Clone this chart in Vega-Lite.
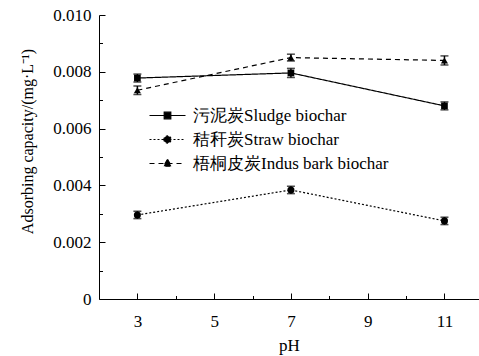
{
  "$schema": "https://vega.github.io/schema/vega-lite/v6.json",
  "width": 380,
  "height": 284,
  "autosize": {"type": "none"},
  "padding": {"left": 99, "top": 15, "right": 0, "bottom": 57},
  "background": "white",
  "config": {
    "view": {"stroke": null},
    "font": "Liberation Serif",
    "axis": {"grid": false, "domainColor": "black", "tickColor": "black", "labelColor": "black", "titleColor": "black", "labelFont": "Liberation Serif", "titleFont": "Liberation Serif", "titleFontWeight": "normal", "labelFontSize": 17, "titleFontSize": 17, "domainWidth": 1, "tickWidth": 1},
    "legend": {"labelFont": "Liberation Serif", "labelFontSize": 17, "labelColor": "black", "labelLimit": 400}
  },
  "data": {
    "values": [
      {"pH": 3, "series": "污泥炭Sludge biochar", "v": 0.00778, "e": 0.00014},
      {"pH": 7, "series": "污泥炭Sludge biochar", "v": 0.00796, "e": 0.00016},
      {"pH": 11, "series": "污泥炭Sludge biochar", "v": 0.0068, "e": 0.00014},
      {"pH": 3, "series": "秸秆炭Straw biochar", "v": 0.00296, "e": 0.00013},
      {"pH": 7, "series": "秸秆炭Straw biochar", "v": 0.00384, "e": 0.00013},
      {"pH": 11, "series": "秸秆炭Straw biochar", "v": 0.00275, "e": 0.00013},
      {"pH": 3, "series": "梧桐皮炭Indus bark biochar", "v": 0.00735, "e": 0.00015},
      {"pH": 7, "series": "梧桐皮炭Indus bark biochar", "v": 0.0085, "e": 0.00012},
      {"pH": 11, "series": "梧桐皮炭Indus bark biochar", "v": 0.0084, "e": 0.00016}
    ]
  },
  "resolve": {"axis": {"x": "independent", "y": "independent"}},
  "layer": [
    {
      "mark": {"type": "line", "strokeWidth": 1.2},
      "encoding": {
        "x": {"field": "pH", "type": "quantitative", "scale": {"domain": [2, 11.9], "nice": false, "zero": false},
          "axis": {"orient": "bottom", "values": [3, 5, 7, 9, 11], "tickSize": -6, "labelPadding": 20, "title": "pH", "titlePadding": 8}},
        "y": {"field": "v", "type": "quantitative", "scale": {"domain": [0, 0.01], "nice": false},
          "axis": {"orient": "left", "values": [0, 0.002, 0.004, 0.006, 0.008, 0.01], "tickSize": -6, "labelPadding": 14, "labelExpr": "datum.value == 0 ? '0' : format(datum.value, '.3f')", "title": "Adsorbing capacity/(mg·L⁻¹)", "titleFontSize": 16, "titlePadding": 17, "titleY": 126}},
        "strokeDash": {"field": "series", "type": "nominal",
          "scale": {"domain": ["污泥炭Sludge biochar", "秸秆炭Straw biochar", "梧桐皮炭Indus bark biochar"], "range": [[1, 0], [2, 2], [5, 4]]},
          "legend": null},
        "color": {"field": "series", "type": "nominal",
          "scale": {"domain": ["污泥炭Sludge biochar", "秸秆炭Straw biochar", "梧桐皮炭Indus bark biochar"], "range": ["black", "black", "black"]},
          "legend": {"orient": "none", "legendX": 60, "legendY": 92, "title": null, "padding": 0, "symbolSize": 144, "labelOffset": 17, "rowPadding": 6,
            "encode": {"symbols": {"update": {
              "shape": {"signal": "datum.value == '污泥炭Sludge biochar' ? 'M-3,0H3M-0.55,-0.55H0.55V0.55H-0.55Z' : datum.value == '秸秆炭Straw biochar' ? 'M-3,0H3M-0.6,0A0.6,0.6 0 1,0 0.6,0A0.6,0.6 0 1,0 -0.6,0Z' : 'M-3,0H3M0,-0.7L0.65,0.45L-0.65,0.45Z'"},
              "strokeDash": {"signal": "datum.value == '污泥炭Sludge biochar' ? [1, 0] : datum.value == '秸秆炭Straw biochar' ? [2, 2] : [5, 4]"},
              "fill": {"value": "black"},
              "strokeWidth": {"value": 1.2}
            }}}}
        }
      }
    },
    {
      "transform": [{"filter": "datum.series == '污泥炭Sludge biochar'"}],
      "mark": {"type": "point", "shape": "square", "filled": true, "color": "black", "opacity": 1, "size": 45},
      "encoding": {
        "x": {"field": "pH", "type": "quantitative", "scale": {"domain": [2, 11.9], "nice": false, "zero": false}, "axis": null},
        "y": {"field": "v", "type": "quantitative", "scale": {"domain": [0, 0.01], "nice": false}, "axis": null}
      }
    },
    {
      "transform": [{"filter": "datum.series == '秸秆炭Straw biochar'"}],
      "mark": {"type": "point", "shape": "circle", "filled": true, "color": "black", "opacity": 1, "size": 50},
      "encoding": {
        "x": {"field": "pH", "type": "quantitative", "scale": {"domain": [2, 11.9], "nice": false, "zero": false}, "axis": null},
        "y": {"field": "v", "type": "quantitative", "scale": {"domain": [0, 0.01], "nice": false}, "axis": null}
      }
    },
    {
      "transform": [{"filter": "datum.series == '梧桐皮炭Indus bark biochar'"}],
      "mark": {"type": "point", "shape": "triangle-up", "filled": true, "color": "black", "opacity": 1, "size": 50},
      "encoding": {
        "x": {"field": "pH", "type": "quantitative", "scale": {"domain": [2, 11.9], "nice": false, "zero": false}, "axis": null},
        "y": {"field": "v", "type": "quantitative", "scale": {"domain": [0, 0.01], "nice": false}, "axis": null}
      }
    },
    {
      "mark": {"type": "errorbar", "ticks": {"size": 8}, "thickness": 1.5, "color": "black"},
      "encoding": {
        "x": {"field": "pH", "type": "quantitative", "scale": {"domain": [2, 11.9], "nice": false, "zero": false}, "axis": null},
        "y": {"field": "v", "type": "quantitative", "scale": {"domain": [0, 0.01], "nice": false}, "axis": null},
        "yError": {"field": "e"},
        "detail": {"field": "series"}
      }
    },
    {
      "mark": {"type": "point", "opacity": 0},
      "encoding": {
        "x": {"field": "pH", "type": "quantitative", "scale": {"domain": [2, 11.9], "nice": false, "zero": false},
          "axis": {"orient": "bottom", "values": [4, 6, 8, 10], "tickSize": -3.5, "labels": false, "domain": false, "title": null}},
        "y": {"field": "v", "type": "quantitative", "scale": {"domain": [0, 0.01], "nice": false},
          "axis": {"orient": "left", "values": [0.001, 0.003, 0.005, 0.007, 0.009], "tickSize": -3.5, "labels": false, "domain": false, "title": null}}
      }
    }
  ]
}
